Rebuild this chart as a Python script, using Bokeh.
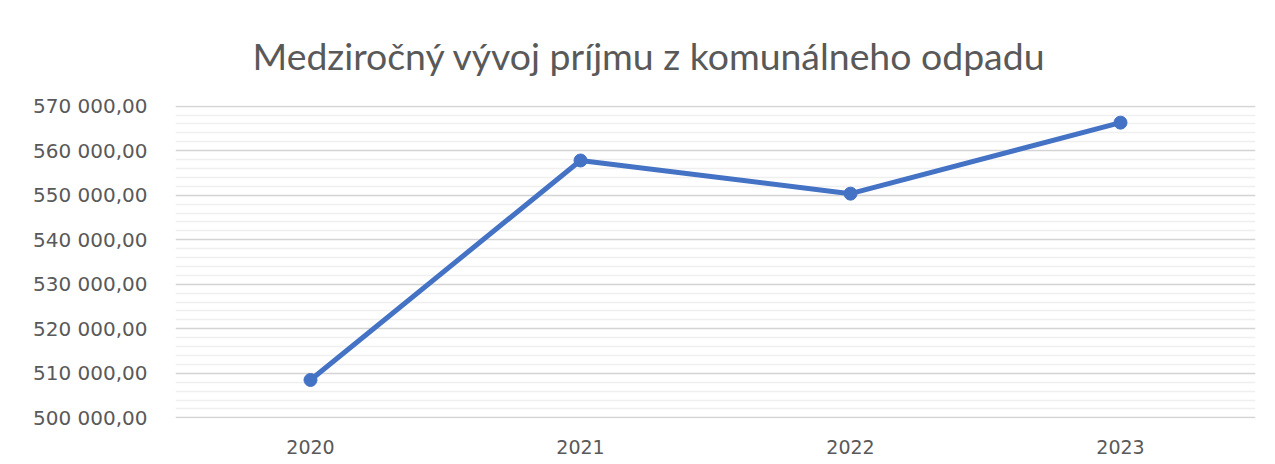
from bokeh.plotting import figure
from bokeh.models import FixedTicker, Range1d, FactorRange
from bokeh.embed import file_html
from bokeh.resources import INLINE

years = ["2020", "2021", "2022", "2023"]
income = [508500, 557800, 550350, 566300]
y_ticks = [500000, 510000, 520000, 530000, 540000, 550000, 560000, 570000]
y_tick_labels = ["500 000,00", "510 000,00", "520 000,00", "530 000,00",
                 "540 000,00", "550 000,00", "560 000,00", "570 000,00"]
minor_ticks = [v for v in range(500000, 570001, 2000) if v not in y_ticks]
title_text = "Medziročný vývoj príjmu z komunálneho odpadu"

p = figure(width=1267, height=456, output_backend="svg", toolbar_location=None,
           x_range=FactorRange(factors=years, range_padding=0),
           y_range=Range1d(499850, 570150),
           min_border_left=175, min_border_right=12, min_border_top=105, min_border_bottom=38)
p.outline_line_color = None
p.background_fill_color = "white"
p.border_fill_color = "white"

p.title.text = title_text
p.title.align = "left"
p.title.offset = 77
p.title.standoff = 56
p.title.text_font = "Lato"
p.title.text_font_size = "37.4px"
p.title.text_font_style = "normal"
p.title.text_color = "#595959"

p.yaxis.ticker = FixedTicker(ticks=y_ticks, minor_ticks=minor_ticks)
p.yaxis.major_label_overrides = {t: l for t, l in zip(y_ticks, y_tick_labels)}
for ax in (p.xaxis, p.yaxis):
    ax.axis_line_color = None
    ax.major_tick_line_color = None
    ax.minor_tick_line_color = None
    ax.major_label_text_font = "DejaVu Sans"
    ax.major_label_text_color = "#595959"
p.yaxis.major_label_text_font_size = "20px"
p.xaxis.major_label_text_font_size = "19px"
p.yaxis.major_label_standoff = 22
p.xaxis.major_label_standoff = 15

p.xgrid.grid_line_color = None
p.ygrid.grid_line_color = "#d4d4d4"
p.ygrid.grid_line_width = 1.5
p.ygrid.minor_grid_line_color = "#efefef"
p.ygrid.minor_grid_line_width = 1.5

p.line(years, income, line_color="#4472C4", line_width=5)
p.scatter(years, income, size=13, fill_color="#4472C4", line_color="#4472C4")

open("out.html", "w").write(file_html(p, INLINE))
